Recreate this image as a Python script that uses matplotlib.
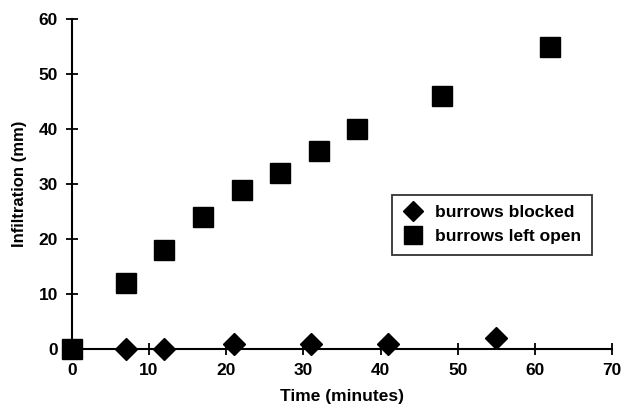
import matplotlib
matplotlib.use('Agg')
import matplotlib.pyplot as plt

plt.rcParams.update({
    'font.family': ['Liberation Sans', 'DejaVu Sans'],
    'font.weight': 'bold',
    'font.size': 12,
})

# Burrows left open
open_time = [0, 7, 12, 17, 22, 27, 32, 37, 48, 62]
open_infil = [0, 12, 18, 24, 29, 32, 36, 40, 46, 55]

# Burrows blocked
blocked_time = [7, 12, 21, 31, 41, 55]
blocked_infil = [0, 0, 1, 1, 1, 2]

x_ticks = [0, 10, 20, 30, 40, 50, 60, 70]
y_ticks = [0, 10, 20, 30, 40, 50, 60]

fig = plt.figure(figsize=(6.24, 4.16), dpi=100)
ax = fig.add_axes([0.115, 0.161, 0.866, 0.793])

ax.plot(blocked_time, blocked_infil, linestyle='none', marker='D', markersize=11,
        color='black', label='burrows blocked', clip_on=False, zorder=3)
ax.plot(open_time, open_infil, linestyle='none', marker='s', markersize=14,
        color='black', label='burrows left open', clip_on=False, zorder=3)

ax.set_xlim(0, 70)
ax.set_ylim(0, 60)
ax.set_xticks(x_ticks)
ax.set_yticks(y_ticks)
ax.spines['top'].set_visible(False)
ax.spines['right'].set_visible(False)
for s in ['left', 'bottom']:
    ax.spines[s].set_linewidth(1.5)
ax.tick_params(direction='inout', length=8, width=1.3, labelsize=12.5, pad=6)

ax.set_xlabel('Time (minutes)', fontsize=12.5, fontweight='bold', labelpad=8)
ax.set_ylabel('Infiltration (mm)', fontsize=12, fontweight='bold', labelpad=8)

leg = ax.legend(loc='lower left', bbox_to_anchor=(0.576, 0.26), frameon=True,
                fancybox=False, edgecolor='black', fontsize=12.5, handletextpad=0.6,
                borderpad=0.6, labelspacing=0.5, markerscale=0.95, handlelength=1.3)
leg.get_frame().set_linewidth(1.3)

fig.savefig('out.png', dpi=100, facecolor='white')
